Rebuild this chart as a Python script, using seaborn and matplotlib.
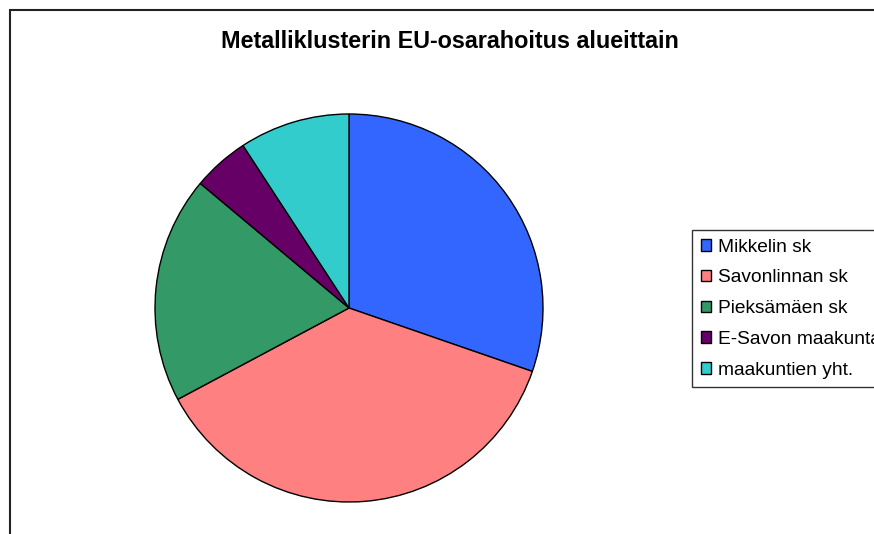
import matplotlib
matplotlib.use("Agg")
import matplotlib.pyplot as plt
import seaborn as sns
from matplotlib.patches import Rectangle

# Metalliklusterin EU-osarahoitus, osuudet (%) luettu kuvasta
alueet = ['Mikkelin sk', 'Savonlinnan sk', 'Pieksämäen sk',
          'E-Savon maakuntaliitto', 'maakuntien yht.']
osuudet = [30.3, 36.9, 18.9, 4.7, 9.2]
varit = ['#3366FF', '#FF8080', '#339966', '#660066', '#33CCCC']
otsikko = 'Metalliklusterin EU-osarahoitus alueittain'

sns.set_style("white")
plt.rcParams['font.family'] = ['Liberation Sans', 'DejaVu Sans']
plt.rcParams['text.color'] = 'black'

W, H = 874, 534
fig = plt.figure(figsize=(W / 100, H / 100), dpi=100)

# kehys kuvan ympärillä (jatkuu oikean ja alareunan yli)
fig.patches.append(Rectangle((10 / W, -0.5), 2, 1.5 - 10 / H, transform=fig.transFigure,
                             fill=False, edgecolor='#222222', linewidth=1.5))

# piirakka: keskipiste (349, 308), säde 194 px
cx, cy, r = 349, 308, 194
ax = fig.add_axes([(cx - r) / W, (H - cy - r) / H, 2 * r / W, 2 * r / H])
wedges, _ = ax.pie(osuudet, colors=sns.color_palette(varit), startangle=90, counterclock=False,
                   wedgeprops=dict(edgecolor='black', linewidth=1.0))
ax.set_xlim(-1, 1)
ax.set_ylim(-1, 1)
ax.set_aspect('equal')
ax.axis('off')

fig.text(450 / W, 1 - 48 / H, otsikko, ha='center', va='baseline',
         fontsize=16.8, fontweight='bold', color='black')

leg = fig.legend(wedges, alueet, loc='upper left', bbox_to_anchor=(692 / W, 1 - 230 / H),
                 fontsize=13.8, frameon=True, fancybox=False, edgecolor='black',
                 handlelength=0.56, handleheight=0.56, handletextpad=0.33,
                 borderpad=0.45, labelspacing=0.72, borderaxespad=0)
leg.get_frame().set_linewidth(1.0)
for t in leg.get_texts():
    t.set_color('black')
for h in leg.legend_handles:
    h.set_edgecolor('black')
    h.set_linewidth(1.0)

fig.savefig('out.png', dpi=100)
